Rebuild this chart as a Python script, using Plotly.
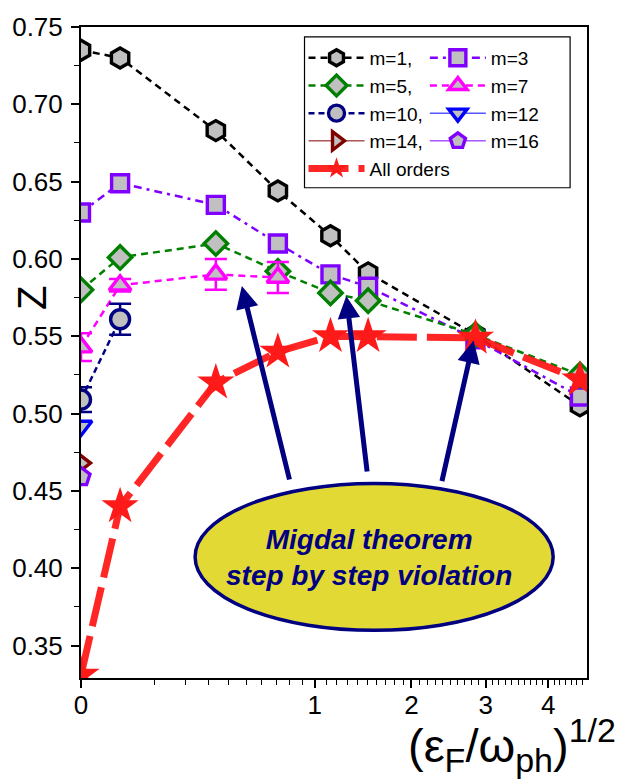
import numpy as np
import plotly.graph_objects as go

# ---------------- data ----------------
x_vals = [0.0, 0.028, 0.333, 0.71, 1.14, 1.51, 2.85, 4.56]

z_m1 = [0.735, 0.730, 0.683, 0.644, 0.615, 0.591, 0.551, 0.505]
z_m3 = [0.630, 0.649, 0.635, 0.610, 0.590, 0.582, 0.548, 0.511]
z_m5 = [0.580, 0.601, 0.610, 0.592, 0.578, 0.573, 0.551, 0.525]
z_m7 = [0.543, 0.583, 0.590, 0.588]
err_m7 = [0.009, 0.004, 0.010, 0.010]
z_m10 = [0.509, 0.561]
err_m10 = [0.008, 0.010]
z_m12 = [0.492]
z_m14 = [0.468]
z_m16 = [0.459]
z_all = [0.331, 0.440, 0.520, 0.540, 0.550, 0.550, 0.549, 0.522]

x_ticks = [0, 1, 2, 3, 4]
x_ticktext = ["0", "1", "2", "3", "4"]
x_max = 4.69
y_range = [0.329, 0.75]

# ---------------- helpers ----------------
def sx(v):
    """square-root scale of the x axis"""
    return np.sqrt(np.asarray(v, dtype=float))

L, R, T, B = 78.3, 587.0, 22.0, 678.0
def px_x(p):
    return (p - L) / (R - L)
def px_y(p):
    return (B - p) / (B - T)

GRAY = "#c0c0c0"
fig = go.Figure()

def add(name, xs, ys, color, symbol, size, dash, lw=2.5, legend="legend", err=None, mlw=3.4):
    kw = {}
    if err is not None:
        kw["error_y"] = dict(type="data", array=err, visible=True, color=color,
                             thickness=2.5, width=11)
    fig.add_trace(go.Scatter(
        x=sx(xs), y=ys, name=name, mode="lines+markers",
        line=dict(color=color, width=lw, dash=dash),
        marker=dict(symbol=symbol, size=size, color=GRAY,
                    line=dict(color=color, width=mlw)),
        legend=legend, cliponaxis=True, **kw))

add("m=1,", x_vals, z_m1, "#000000", "hexagon", 20, "7px,5px", legend="legend")
add("m=3", x_vals, z_m3, "#8000ff", "square", 17, "8px,5px,3px,5px", legend="legend2")
add("m=5,", x_vals, z_m5, "#008000", "diamond", 18, "7px,5px", legend="legend")
add("m=7", x_vals[:4], z_m7, "#ff00ff", "triangle-up", 19, "7px,5px", legend="legend2", err=err_m7)
add("m=10,", x_vals[:2], z_m10, "#000080", "circle", 19, "6px,4px", legend="legend", err=err_m10)
add("m=12", x_vals[:1], z_m12, "#0000ff", "triangle-down", 19, "solid", lw=1, legend="legend2")
add("m=14,", x_vals[:1], z_m14, "#800000", "triangle-right", 19, "solid", lw=1, legend="legend")
add("m=16", x_vals[:1], z_m16, "#8000ff", "pentagon", 19, "solid", lw=1, legend="legend2")

fig.add_trace(go.Scatter(
    x=sx(x_vals), y=z_all, name="All orders", mode="lines+markers",
    line=dict(color="rgba(255,20,20,0.92)", width=7, dash="40px,10px"),
    marker=dict(symbol="star", size=28, color="#ff1a1a", line=dict(width=0)),
    legend="legend", cliponaxis=True))

# minor ticks every 0.1 on the sqrt axis
minor_vals = [sx(k / 10.0).item() for k in range(1, 47) if k % 10 != 0]

font = "Liberation Sans, Arial, Helvetica, sans-serif"
fig.update_layout(
    width=635, height=779,
    margin=dict(l=78, r=48, t=22, b=101),
    paper_bgcolor="white", plot_bgcolor="white",
    font=dict(family=font, size=22, color="black"),
    showlegend=True,
    xaxis=dict(
        range=[0, float(np.sqrt(x_max))],
        tickmode="array", tickvals=sx(x_ticks).tolist(), ticktext=x_ticktext,
        ticks="outside", ticklen=8, tickwidth=1.5, tickcolor="black",
        showline=True, linecolor="black", linewidth=2, mirror=True,
        showgrid=False, zeroline=False,
        tickfont=dict(size=26), ticklabelstandoff=-5,
        minor=dict(tickmode="array", tickvals=minor_vals, ticks="outside",
                   ticklen=5, tickwidth=1.2, tickcolor="black", showgrid=False),
    ),
    yaxis=dict(
        range=y_range, dtick=0.05, tick0=0.35, tickformat=".2f",
        ticks="outside", ticklen=8, tickwidth=1.5, tickcolor="black",
        showline=True, linecolor="black", linewidth=2, mirror=True,
        showgrid=False, zeroline=False,
        tickfont=dict(size=26), ticklabelstandoff=3,
        minor=dict(dtick=0.025, tick0=0.325, ticks="outside", ticklen=5,
                   tickwidth=1.2, tickcolor="black", showgrid=False),
    ),
    legend=dict(x=px_x(302), y=px_y(34), xanchor="left", yanchor="top",
                bgcolor="rgba(0,0,0,0)", borderwidth=0, itemwidth=56,
                font=dict(size=19), tracegroupgap=0, itemclick=False),
    legend2=dict(x=px_x(424), y=px_y(34), xanchor="left", yanchor="top",
                 bgcolor="rgba(0,0,0,0)", borderwidth=0, itemwidth=56,
                 font=dict(size=19), tracegroupgap=0, itemclick=False),
)

# legend frame
fig.add_shape(type="rect", xref="paper", yref="paper",
              x0=px_x(303), x1=px_x(570), y0=px_y(184), y1=px_y(32),
              line=dict(color="black", width=1.2), fillcolor="white", layer="below")

# ellipse
fig.add_shape(type="circle", xref="paper", yref="paper",
              x0=px_x(193), x1=px_x(553), y0=px_y(630), y1=px_y(482),
              line=dict(color="#000080", width=3.5), fillcolor="#e3d935", layer="above")

# arrows (head -> from tail offsets in pixels)
for hx, hy, tx, ty in [(240, 283, 288, 478), (345, 293, 366, 470), (473, 338, 441, 480)]:
    fig.add_annotation(x=px_x(hx), y=px_y(hy), xref="paper", yref="paper",
                       ax=tx - hx, ay=ty - hy, axref="pixel", ayref="pixel",
                       showarrow=True, arrowhead=2, arrowsize=0.9, arrowwidth=5,
                       arrowcolor="#000080", text="")

fig.add_annotation(x=px_x(368), y=px_y(557), xref="paper", yref="paper",
                   xanchor="center", yanchor="middle",
                   text="<b><i>Migdal theorem</i></b><br><b><i>step by step violation</i></b>",
                   showarrow=False, font=dict(size=28, color="#000080", family=font))

# axis titles
fig.add_annotation(x=px_x(29), y=px_y(295), xref="paper", yref="paper",
                   xanchor="center", yanchor="middle",
                   text="Z", textangle=-90, showarrow=False,
                   font=dict(size=40, color="black", family=font))
small = "<span style='font-size:34px'>%s</span>"
fig.add_annotation(x=px_x(512), y=px_y(746), xref="paper", yref="paper",
                   xanchor="center", yanchor="middle",
                   text="(ε<sub>" + small % "F" + "</sub>/ω<sub>" + small % "ph"
                        + "</sub>)<sup>" + small % "1/2" + "</sup>",
                   showarrow=False,
                   font=dict(size=47, color="black", family=font))

fig.write_html("out.html", post_script="document.body.style.margin='0';",
               config={"displayModeBar": False})
